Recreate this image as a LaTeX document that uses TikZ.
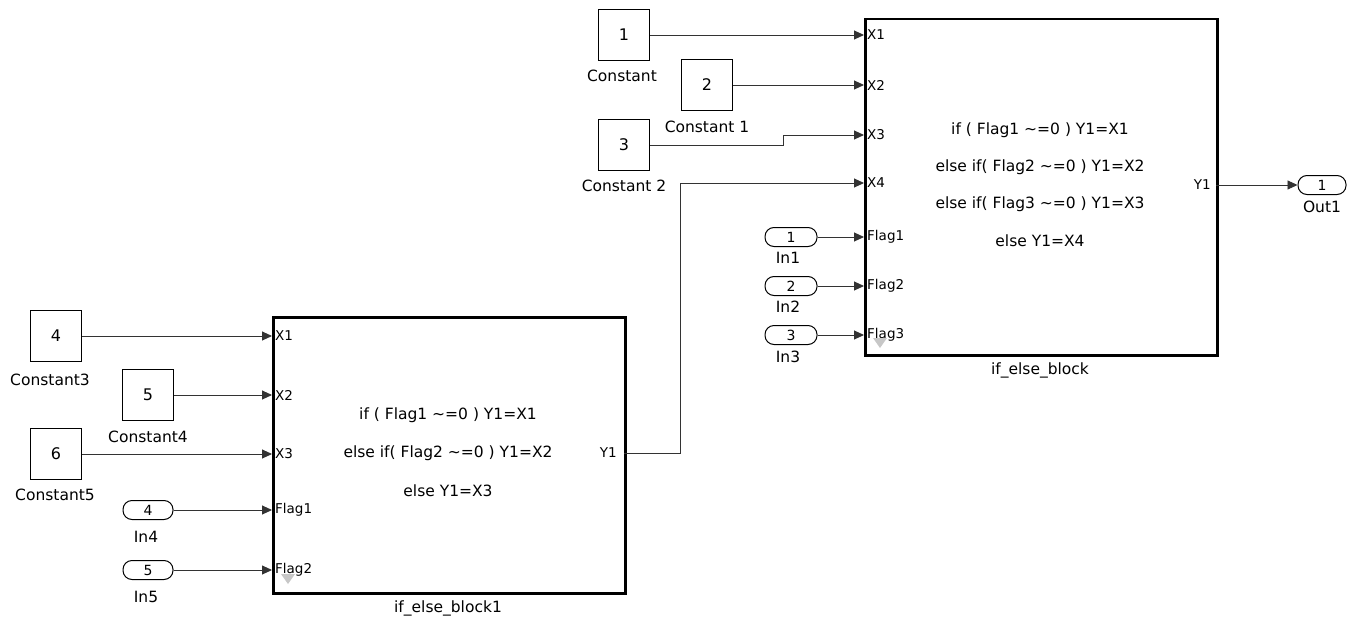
\documentclass[tikz,border=0pt]{standalone}
\usepackage{fontspec}
\setmainfont{DejaVu Sans}
\usetikzlibrary{arrows.meta}
\begin{document}
\begin{tikzpicture}[x=1pt,y=-1pt,
  const/.style={draw, line width=1.1pt, minimum width=51pt, minimum height=51pt, inner sep=0pt, font=\fontsize{16}{17}\selectfont},
  port/.style={draw, line width=1pt, rounded corners=9pt, minimum width=52pt, minimum height=19pt, inner sep=0pt, font=\fontsize{14}{15}\selectfont},
  blk/.style={draw, line width=2.5pt, inner sep=0pt, anchor=north west},
  lbl/.style={font=\fontsize{15.5}{17}\selectfont, inner sep=0pt},
  plbl/.style={font=\fontsize{13.5}{14}\selectfont, inner sep=0pt, anchor=west},
  code/.style={font=\fontsize{15.5}{17}\selectfont, inner sep=0pt},
  wire/.style={line width=0.9pt, draw=black!80, -{Triangle[length=10pt,width=9pt]}},
  tri/.style={fill=black!22, draw=none}
]
\useasboundingbox (0,0) rectangle (1356,623);
\fill[white] (0,0) rectangle (1356,623);

% ---------- upper block ----------
\node[blk, minimum width=352pt, minimum height=336pt] (B) at (864,18) {};
\coordinate (B-x1) at (864,35);
\coordinate (B-x2) at (864,85);
\coordinate (B-x3) at (864,135);
\coordinate (B-x4) at (864,183);
\coordinate (B-f1) at (864,237);
\coordinate (B-f2) at (864,286);
\coordinate (B-f3) at (864,335);
\coordinate (B-y1) at (1216,185);
\node[plbl] at (867,35) {X1};
\node[plbl] at (867,85) {X2};
\node[plbl] at (867,135) {X3};
\node[plbl] at (867,183) {X4};
\node[plbl] at (867,237) {Flag1};
\node[plbl] at (867,286) {Flag2};
\node[plbl] at (867,335) {Flag3};
\node[plbl, anchor=east] at (1211,185) {Y1};
\fill[tri] (873,338) -- (887,338) -- (880,348) -- cycle;
\node[code] at (1040,130) {if ( Flag1 \textasciitilde=0 ) Y1=X1};
\node[code] at (1040,167) {else if( Flag2 \textasciitilde=0 ) Y1=X2};
\node[code] at (1040,204) {else if( Flag3 \textasciitilde=0 ) Y1=X3};
\node[code] at (1040,241) {else Y1=X4};
\node[lbl] at (1040,370) {if\_else\_block};

\node[const] (c1) at (624,35) {1};
\node[lbl] at (622,76) {Constant};
\node[const] (c2) at (707,85) {2};
\node[lbl] at (707,127) {Constant 1};
\node[const] (c3) at (624,145) {3};
\node[lbl] at (624,186) {Constant 2};

\node[port] (in1) at (791,237) {1};
\node[lbl] at (788,258) {In1};
\node[port] (in2) at (791,286) {2};
\node[lbl] at (788,307) {In2};
\node[port] (in3) at (791,335) {3};
\node[lbl] at (788,357) {In3};

\node[port, minimum width=48pt] (out1) at (1322,185) {1};
\node[lbl] at (1322,207) {Out1};

\draw[wire] (c1.east) -- (B-x1);
\draw[wire] (c2.east) -- (B-x2);
\coordinate (j3) at (783,140);
\draw[wire] (c3.east) -| (j3) |- (B-x3);
\draw[wire] (in1.east) -- (B-f1);
\draw[wire] (in2.east) -- (B-f2);
\draw[wire] (in3.east) -- (B-f3);
\draw[wire] (B-y1) -- (out1.west);

% ---------- lower block ----------
\node[blk, minimum width=352pt, minimum height=276pt] (A) at (272,316) {};
\coordinate (A-x1) at (272,336);
\coordinate (A-x2) at (272,395);
\coordinate (A-x3) at (272,454);
\coordinate (A-f1) at (272,510);
\coordinate (A-f2) at (272,570);
\coordinate (A-y1) at (624,453);
\node[plbl] at (275,336) {X1};
\node[plbl] at (275,395) {X2};
\node[plbl] at (275,454) {X3};
\node[plbl] at (275,510) {Flag1};
\node[plbl] at (275,570) {Flag2};
\node[plbl, anchor=east] at (617,453) {Y1};
\fill[tri] (281,574) -- (295,574) -- (288,584) -- cycle;
\node[code] at (448,415) {if ( Flag1 \textasciitilde=0 ) Y1=X1};
\node[code] at (448,453) {else if( Flag2 \textasciitilde=0 ) Y1=X2};
\node[code] at (448,491) {else Y1=X3};
\node[lbl] at (448,608) {if\_else\_block1};

\node[const] (c4) at (56,336) {4};
\node[lbl] at (50,380) {Constant3};
\node[const] (c5) at (148,395) {5};
\node[lbl] at (148,437) {Constant4};
\node[const] (c6) at (56,454) {6};
\node[lbl] at (55,495) {Constant5};

\node[port, minimum width=50pt] (in4) at (148,510) {4};
\node[lbl] at (146,537) {In4};
\node[port, minimum width=50pt] (in5) at (148,570) {5};
\node[lbl] at (146,597) {In5};

\draw[wire] (c4.east) -- (A-x1);
\draw[wire] (c5.east) -- (A-x2);
\draw[wire] (c6.east) -- (A-x3);
\draw[wire] (in4.east) -- (A-f1);
\draw[wire] (in5.east) -- (A-f2);

% connection between blocks
\coordinate (j4) at (680,300);
\draw[wire] (A-y1) -| (j4) |- (B-x4);
\end{tikzpicture}
\end{document}
